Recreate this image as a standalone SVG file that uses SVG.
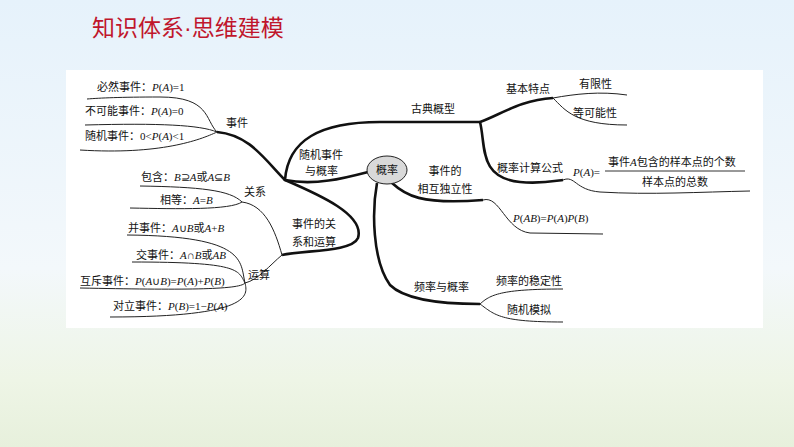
<svg xmlns="http://www.w3.org/2000/svg" width="794" height="447" viewBox="0 0 794 447">
<defs>
<linearGradient id="bg" x1="0" y1="0" x2="0" y2="1">
<stop offset="0" stop-color="#e6f2fb"/><stop offset="0.6" stop-color="#f3f8fb"/><stop offset="0.85" stop-color="#eef5e6"/><stop offset="1" stop-color="#e7f0dc"/>
</linearGradient>
<style>
.t{font-family:"Noto Sans CJK SC","Liberation Sans",sans-serif;font-size:11px;fill:#111}
.m{font-family:"Liberation Serif",serif;font-style:italic}
.n{font-family:"Liberation Serif",serif;font-style:normal}
.thick{fill:none;stroke:#111;stroke-width:2.6}
.thin{fill:none;stroke:#222;stroke-width:1}
</style>
</defs>
<rect width="794" height="447" fill="url(#bg)"/>
<text x="92" y="36" style="font-family:'Noto Sans CJK SC',sans-serif;font-size:23px;fill:#c0162c">知识体系<tspan style="font-family:'Liberation Sans',sans-serif">·</tspan>思维建模</text>
<rect x="66" y="70" width="697" height="258" fill="#fff"/>
<g id="connectors">
<path class="thick" d="M368,172 C345,178 315,186 285,180 C288,140 320,122 380,122 L480,122"/>
<path class="thick" d="M285,180 C265,160 250,135 217,132"/>
<path class="thick" d="M285,180 C320,195 365,215 358,238 C352,252 305,250 282,255"/>
<path class="thick" d="M392,183 C405,195 420,205 483,200"/>
<path class="thick" d="M377,183 C372,210 372,260 390,285 C405,300 440,304 480,304"/>
<path class="thin" d="M217,132 C205,120 210,97 160,97 C120,97 100,98 87,99"/>
<path class="thin" d="M217,132 C200,125 160,123 85,125"/>
<path class="thin" d="M217,132 C200,140 160,155 80,150"/>
<path class="thin" d="M282,255 C275,230 265,205 242,202 C230,190 200,187 140,186"/>
<path class="thin" d="M242,202 C230,210 180,209 130,208"/>
<path class="thin" d="M282,255 C270,265 258,280 245,283"/>
<path class="thin" d="M245,283 C240,262 248,236 127,235"/>
<path class="thin" d="M245,283 C238,270 240,262 132,262"/>
<path class="thin" d="M245,283 C240,290 180,290 80,288"/>
<path class="thin" d="M245,283 C248,295 252,317 110,317"/>
<path class="thick" d="M480,122 C500,115 520,100 553,98"/>
<path class="thick" d="M480,122 C486,145 478,178 520,182 C540,184 555,181 563,180"/>
<path class="thin" d="M553,98 C575,94 600,91 627,95"/>
<path class="thin" d="M553,98 C565,110 575,125 627,125"/>
<path class="thin" d="M563,180 C575,175 575,190 600,192 C650,195 700,192 750,191"/>
<path class="thin" d="M483,200 C500,195 505,230 530,233 L603,234"/>
<path class="thin" d="M480,304 C490,295 500,289 563,289"/>
<path class="thin" d="M480,304 C495,315 500,322 563,322"/>
<line x1="605" y1="171" x2="745" y2="171" stroke="#333" stroke-width="1"/>
</g>
<g id="n-center"><ellipse cx="387" cy="170" rx="20" ry="14" fill="#d9d9d9" stroke="#222" stroke-width="1"/><text class="t" x="387" y="174" text-anchor="middle" font-size="12">概率</text></g>
<g id="n-sj"><text class="t" x="226" y="127">事件</text></g>
<g id="n-sj1"><text class="t" x="97" y="91">必然事件：<tspan class="m">P</tspan><tspan class="n">(</tspan><tspan class="m">A</tspan><tspan class="n">)=1</tspan></text></g>
<g id="n-sj2"><text class="t" x="85" y="115">不可能事件：<tspan class="m">P</tspan><tspan class="n">(</tspan><tspan class="m">A</tspan><tspan class="n">)=0</tspan></text></g>
<g id="n-sj3"><text class="t" x="85" y="140">随机事件：<tspan class="n">0&lt;</tspan><tspan class="m">P</tspan><tspan class="n">(</tspan><tspan class="m">A</tspan><tspan class="n">)&lt;1</tspan></text></g>
<g id="n-sjgl"><text class="t" x="299" y="159">随机事件</text><text class="t" x="305" y="175">与概率</text></g>
<g id="n-gx"><text class="t" x="244" y="196">关系</text></g>
<g id="n-bh"><text class="t" x="141" y="181">包含：<tspan class="m">B</tspan><tspan class="n">⊇</tspan><tspan class="m">A</tspan>或<tspan class="m">A</tspan><tspan class="n">⊆</tspan><tspan class="m">B</tspan></text></g>
<g id="n-xd"><text class="t" x="160" y="204">相等：<tspan class="m">A</tspan><tspan class="n">=</tspan><tspan class="m">B</tspan></text></g>
<g id="n-gxys"><text class="t" x="292" y="228">事件的关</text><text class="t" x="292" y="246">系和运算</text></g>
<g id="n-ys"><text class="t" x="248" y="279">运算</text></g>
<g id="n-b"><text class="t" x="128" y="232">并事件：<tspan class="m">A</tspan><tspan class="n">∪</tspan><tspan class="m">B</tspan>或<tspan class="m">A</tspan><tspan class="n">+</tspan><tspan class="m">B</tspan></text></g>
<g id="n-j"><text class="t" x="136" y="259">交事件：<tspan class="m">A</tspan><tspan class="n">∩</tspan><tspan class="m">B</tspan>或<tspan class="m">AB</tspan></text></g>
<g id="n-hc"><text class="t" x="80" y="285">互斥事件：<tspan class="m">P</tspan><tspan class="n">(</tspan><tspan class="m">A</tspan><tspan class="n">∪</tspan><tspan class="m">B</tspan><tspan class="n">)=</tspan><tspan class="m">P</tspan><tspan class="n">(</tspan><tspan class="m">A</tspan><tspan class="n">)+</tspan><tspan class="m">P</tspan><tspan class="n">(</tspan><tspan class="m">B</tspan><tspan class="n">)</tspan></text></g>
<g id="n-dl"><text class="t" x="113" y="310">对立事件：<tspan class="m">P</tspan><tspan class="n">(</tspan><tspan class="m">B</tspan><tspan class="n">)=1−</tspan><tspan class="m">P</tspan><tspan class="n">(</tspan><tspan class="m">A</tspan><tspan class="n">)</tspan></text></g>
<g id="n-gd"><text class="t" x="411" y="113">古典概型</text></g>
<g id="n-jb"><text class="t" x="506" y="93">基本特点</text></g>
<g id="n-yx"><text class="t" x="579" y="88">有限性</text></g>
<g id="n-dk"><text class="t" x="573" y="117">等可能性</text></g>
<g id="n-js"><text class="t" x="497" y="172">概率计算公式</text></g>
<g id="n-gs"><text class="t" x="573" y="176"><tspan class="m">P</tspan><tspan class="n">(</tspan><tspan class="m">A</tspan><tspan class="n">)=</tspan></text><text class="t" x="608" y="166">事件<tspan class="m">A</tspan>包含的样本点的个数</text><text class="t" x="675" y="186" text-anchor="middle">样本点的总数</text></g>
<g id="n-dl2"><text class="t" x="445" y="175" text-anchor="middle">事件的</text><text class="t" x="445" y="193" text-anchor="middle">相互独立性</text></g>
<g id="n-pab"><text class="t" x="513" y="222"><tspan class="m">P</tspan><tspan class="n">(</tspan><tspan class="m">AB</tspan><tspan class="n">)=</tspan><tspan class="m">P</tspan><tspan class="n">(</tspan><tspan class="m">A</tspan><tspan class="n">)</tspan><tspan class="m">P</tspan><tspan class="n">(</tspan><tspan class="m">B</tspan><tspan class="n">)</tspan></text></g>
<g id="n-pl"><text class="t" x="414" y="291">频率与概率</text></g>
<g id="n-wd"><text class="t" x="496" y="285">频率的稳定性</text></g>
<g id="n-mn"><text class="t" x="507" y="314">随机模拟</text></g>
</svg>
